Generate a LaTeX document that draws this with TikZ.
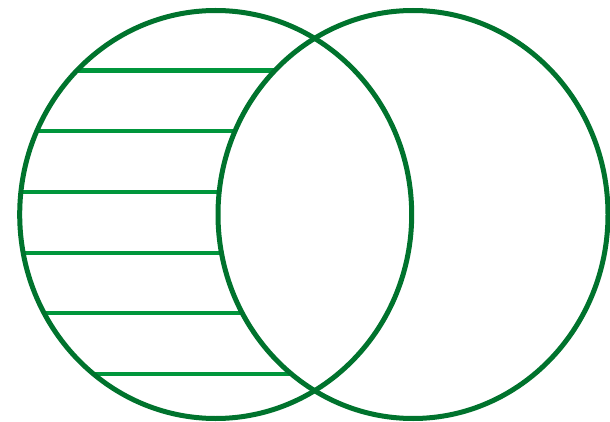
\documentclass[tikz,border=0pt]{standalone}
\definecolor{ringgreen}{RGB}{0,115,45}
\definecolor{hatchgreen}{RGB}{0,150,60}
\tikzset{
  ring/.style={draw=ringgreen, line width=5pt},
  hatchline/.style={draw=hatchgreen, line width=4.2pt}
}
\begin{document}
\begin{tikzpicture}[x=1pt,y=-1pt]
\useasboundingbox (0,0) rectangle (610,422);
% hatch lines in the left-only region
\foreach \k in {0,...,5}{
  \pgfmathsetmacro{\yy}{70.5+60.7*\k}
  \pgfmathsetmacro{\ss}{sqrt(1-((\yy-214.5)/204)^2)}
  \pgfmathsetmacro{\xl}{215.7-196*\ss}
  \pgfmathsetmacro{\xr}{413-195*\ss}
  \coordinate (h\k l) at (\xl,\yy);
  \coordinate (h\k r) at (\xr,\yy);
  \draw[hatchline] (h\k l) -- (h\k r);
}
% circles
\coordinate (cl) at (215.7,214.5);
\coordinate (cr) at (413,214.5);
\draw[ring] (cl) ellipse [x radius=196, y radius=204];
\draw[ring] (cr) ellipse [x radius=195, y radius=204];
\end{tikzpicture}
\end{document}
